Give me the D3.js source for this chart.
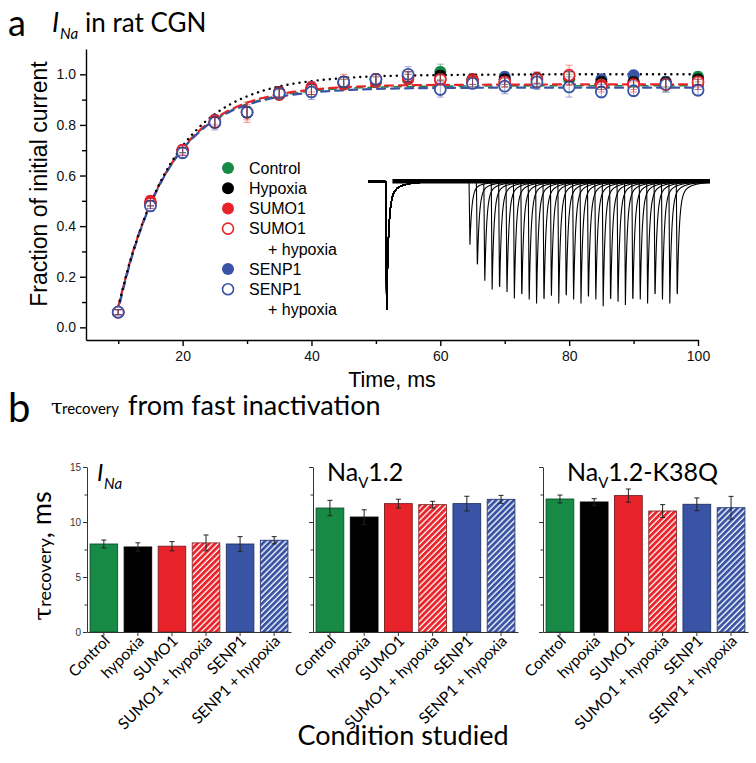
<!DOCTYPE html>
<html lang="en">
<head>
<meta charset="UTF-8">
<title>Recovery from fast inactivation</title>
<script src="https://d3js.org/d3.v7.min.js"></script>
<style>
  body { margin: 0; background: #fff; }
  svg { display: block; }
  .axA text { font: 14px "Liberation Sans", Arial, sans-serif; fill: #111; }
  .axA path, .axA line { stroke: #000; stroke-width: 1.4; }
  .axB text { font: 10px "Liberation Sans", Arial, sans-serif; fill: #333; }
  .axB path, .axB line { stroke: #333; stroke-width: 1; }
</style>
</head>
<body>
<script>
// ---------- panel a : fraction of initial current ----------
const times = [10, 15, 20, 25, 30, 35, 40, 45, 50, 55, 60, 65, 70, 75, 80, 85, 90, 95, 100];

const controlVals = [0.06, 0.49, 0.70, 0.81, 0.85, 0.92, 0.94, 0.96, 0.97, 0.98, 1.01, 0.97, 0.97, 0.97, 0.98, 0.96, 0.97, 0.96, 0.99];
const hypoxiaVals = [0.06, 0.49, 0.70, 0.81, 0.85, 0.93, 0.94, 0.97, 0.98, 0.99, 0.995, 0.98, 0.98, 0.985, 0.99, 0.97, 0.97, 0.97, 0.98];
const sumo1Vals   = [0.06, 0.50, 0.70, 0.82, 0.85, 0.93, 0.95, 0.96, 0.97, 0.98, 0.976, 0.98, 0.97, 0.984, 0.99, 0.96, 0.95, 0.96, 0.96];
const sumo1HypVals= [0.06, 0.49, 0.70, 0.81, 0.85, 0.92, 0.94, 0.97, 0.98, 0.99, 0.98, 0.97, 0.97, 0.98, 0.996, 0.95, 0.96, 0.96, 0.97];
const senp1Vals   = [0.06, 0.49, 0.70, 0.81, 0.85, 0.93, 0.94, 0.97, 0.98, 0.99, 0.98, 0.97, 0.99, 0.98, 0.99, 0.98, 0.996, 0.96, 0.96];
const senp1HypVals= [0.06, 0.48, 0.69, 0.81, 0.85, 0.925, 0.93, 0.97, 0.98, 1.00, 0.94, 0.964, 0.953, 0.97, 0.95, 0.93, 0.935, 0.96, 0.937];

const controlErr  = [0.01, 0.01, 0.01, 0.02, 0.02, 0.02, 0.02, 0.02, 0.02, 0.02, 0.03, 0.02, 0.02, 0.02, 0.02, 0.02, 0.02, 0.03, 0.02];
const hypoxiaErr  = [0.01, 0.01, 0.01, 0.02, 0.02, 0.02, 0.02, 0.02, 0.02, 0.02, 0.02, 0.02, 0.02, 0.02, 0.02, 0.02, 0.02, 0.02, 0.02];
const sumo1Err    = [0.01, 0.02, 0.02, 0.02, 0.03, 0.02, 0.02, 0.02, 0.02, 0.02, 0.02, 0.02, 0.02, 0.02, 0.03, 0.02, 0.02, 0.02, 0.02];
const sumo1HypErr = [0.01, 0.02, 0.02, 0.02, 0.04, 0.02, 0.02, 0.03, 0.02, 0.02, 0.02, 0.02, 0.02, 0.03, 0.04, 0.02, 0.02, 0.02, 0.02];
const senp1Err    = [0.01, 0.02, 0.02, 0.02, 0.02, 0.02, 0.03, 0.02, 0.02, 0.02, 0.02, 0.02, 0.02, 0.02, 0.02, 0.02, 0.02, 0.02, 0.02];
const senp1HypErr = [0.01, 0.02, 0.02, 0.03, 0.02, 0.02, 0.03, 0.02, 0.02, 0.03, 0.03, 0.02, 0.03, 0.03, 0.04, 0.02, 0.02, 0.03, 0.02];

// fitted recovery curves
const fitTimes = [10, 12, 14, 16, 18, 20, 22.5, 25, 27.5, 30, 35, 40, 45, 50, 60, 70, 80, 90, 100];
const fitHypoxia = [0.081, 0.274, 0.426, 0.546, 0.642, 0.717, 0.789, 0.843, 0.883, 0.913, 0.952, 0.973, 0.985, 0.992, 0.997, 0.999, 1.0, 1.0, 1.0];
const fitControl = [0.081, 0.274, 0.424, 0.542, 0.633, 0.704, 0.772, 0.821, 0.857, 0.883, 0.916, 0.934, 0.944, 0.949, 0.953, 0.954, 0.955, 0.955, 0.955];
const fitSumo1   = [0.081, 0.275, 0.426, 0.545, 0.636, 0.708, 0.776, 0.825, 0.861, 0.888, 0.921, 0.939, 0.949, 0.954, 0.958, 0.959, 0.96, 0.96, 0.96];
const fitSenp1   = [0.070, 0.268, 0.422, 0.541, 0.633, 0.704, 0.770, 0.819, 0.854, 0.879, 0.911, 0.928, 0.937, 0.942, 0.946, 0.947, 0.947, 0.947, 0.947];

const legendLabels = ["Control", "Hypoxia", "SUMO1", "SUMO1", "SENP1", "SENP1"];
const legendSecond = ["", "", "", "+ hypoxia", "", "+ hypoxia"];

// inset: sodium current sweeps (normalised peak of each test pulse)
const testDelays = [1, 2, 3, 4, 5, 6, 7, 8, 9, 10, 11, 12, 13, 14, 15, 16, 17, 18, 19, 20, 21, 22, 23, 24, 25, 26, 27, 28, 29];
const testAmps = [0.49, 0.69, 0.80, 0.84, 0.88, 0.89, 0.91, 0.94, 0.95, 0.95, 0.98, 0.92, 0.95, 0.95, 0.95, 0.95, 0.96, 0.95, 0.97, 0.98, 0.97, 0.96, 0.98, 0.95, 0.95, 0.94, 0.95, 0.95, 0.94];

// ---------- panel b : tau recovery ----------
const conditions = ["Control", "hypoxia", "SUMO1", "SUMO1 + hypoxia", "SENP1", "SENP1 + hypoxia"];
const tauINa   = [8.0, 7.73, 7.8, 8.1, 8.0, 8.34];
const errINa   = [0.36, 0.38, 0.42, 0.72, 0.67, 0.33];
const tauNav12 = [11.27, 10.45, 11.67, 11.58, 11.67, 12.06];
const errNav12 = [0.70, 0.66, 0.40, 0.30, 0.67, 0.36];
const tauK38Q  = [12.09, 11.82, 12.4, 11.0, 11.61, 11.3];
const errK38Q  = [0.36, 0.30, 0.60, 0.58, 0.58, 1.03];

const GREEN = "#178a46", RED = "#e8232a", BLUE = "#3a54a5", BLACK = "#000";

const svg = d3.select("body").append("svg")
    .attr("width", 756)
    .attr("height", 763)
    .style("font-family", "'Liberation Sans', Arial, sans-serif");

const defs = svg.append("defs");
[["hatchRed", RED], ["hatchBlue", BLUE]].forEach(([id, c]) => {
  const p = defs.append("pattern")
      .attr("id", id)
      .attr("patternUnits", "userSpaceOnUse")
      .attr("width", 4.2).attr("height", 4.2)
      .attr("patternTransform", "rotate(45)");
  p.append("rect").attr("width", 4.2).attr("height", 4.2).attr("fill", c);
  p.append("line").attr("x1", 1).attr("x2", 1).attr("y1", 0).attr("y2", 4.2)
      .attr("stroke", "#fff").attr("stroke-width", 1.3);
});

// ---------- titles ----------
const lato = "Lato, 'Open Sans', sans-serif";
svg.append("text").attr("x", 8).attr("y", 35.5).style("font", `36px ${lato}`).text("a");
svg.append("text").attr("x", 52).attr("y", 32).style("font", `italic 27px ${lato}`).text("I");
svg.append("text").attr("x", 60).attr("y", 39).style("font", `italic 15px ${lato}`).text("Na");
svg.append("text").attr("x", 85).attr("y", 32).style("font", `26px ${lato}`).text("in rat CGN");

svg.append("text").attr("x", 8).attr("y", 422).style("font", `40px ${lato}`).text("b");
svg.append("text").attr("x", 51).attr("y", 414).style("font", "21px 'DejaVu Serif', serif").text("τ");
svg.append("text").attr("x", 62).attr("y", 414).style("font", `15px ${lato}`).text("recovery");
svg.append("text").attr("x", 128).attr("y", 415).style("font", `27px ${lato}`).text("from fast inactivation");

// ---------- panel a axes ----------
const x = d3.scaleLinear().domain([5, 100]).range([86, 698]);
const y = d3.scaleLinear().domain([-0.05, 1.1]).range([340, 49]);

svg.append("g").attr("class", "axA").attr("transform", "translate(0,340)")
    .call(d3.axisBottom(x).tickValues([20, 40, 60, 80, 100]).tickSize(6).tickSizeOuter(0).tickPadding(5));
svg.append("g").attr("class", "axA").attr("transform", "translate(0,340)")
    .call(d3.axisBottom(x).tickValues([10, 30, 50, 70, 90]).tickSize(4).tickFormat(""))
    .call(g => g.select(".domain").remove());
svg.append("g").attr("class", "axA").attr("transform", "translate(86,0)")
    .call(d3.axisLeft(y).tickValues([0, 0.2, 0.4, 0.6, 0.8, 1.0]).tickFormat(d3.format(".1f")).tickSize(6).tickSizeOuter(0).tickPadding(4));
svg.append("g").attr("class", "axA").attr("transform", "translate(86,0)")
    .call(d3.axisLeft(y).tickValues([0.1, 0.3, 0.5, 0.7, 0.9]).tickSize(4).tickFormat(""))
    .call(g => g.select(".domain").remove());

svg.append("text")
    .attr("transform", "translate(47,184) rotate(-90)")
    .attr("text-anchor", "middle")
    .style("font-size", "23px")
    .text("Fraction of initial current");
svg.append("text")
    .attr("x", 392).attr("y", 387)
    .attr("text-anchor", "middle")
    .style("font-size", "21.5px")
    .text("Time, ms");

// ---------- inset traces ----------
const insetX = d3.scaleLinear().domain([0, 46.2]).range([368, 710]);
const insetY = d3.scaleLinear().domain([-1, 0]).range([310, 182]);
const prepulseAt = 2.4, testStart = 13.65;

function spike(t, t0, amp) {
  const u = t - t0;
  if (u < 0) return 0;
  if (u < 0.12) return -amp * u / 0.12;
  const v = u - 0.12;
  return -amp * (0.86 * Math.exp(-v / 0.25) + 0.14 * Math.exp(-v / 1.3));
}
const sampleT = d3.range(0, 46.2, 0.03);
const traceLine = d3.line().x(d => insetX(d[0])).y(d => insetY(d[1]));

const inset = svg.append("g");
inset.append("line")
    .attr("x1", insetX(0)).attr("x2", insetX(prepulseAt))
    .attr("y1", insetY(0) - 0.5).attr("y2", insetY(0) - 0.5)
    .attr("stroke", "#000").attr("stroke-width", 3);
inset.append("line")
    .attr("x1", insetX(prepulseAt + 0.9)).attr("x2", insetX(46.2))
    .attr("y1", insetY(0) - 0.8).attr("y2", insetY(0) - 0.8)
    .attr("stroke", "#000").attr("stroke-width", 4.5);
inset.selectAll("path.sweep")
  .data(testDelays.map((dl, i) => ({ t: testStart + dl - 1, amp: testAmps[i] })))
  .join("path")
    .attr("class", "sweep")
    .attr("fill", "none")
    .attr("stroke", "#000")
    .attr("stroke-width", 1.1)
    .attr("d", s => traceLine(sampleT.map(t => [t, spike(t, prepulseAt, 1) + spike(t, s.t, s.amp)])));

// ---------- legend ----------
const legendColors = [GREEN, BLACK, RED, RED, BLUE, BLUE];
const legendOpen = [false, false, false, true, false, true];
let ly = 168;
const legend = svg.append("g").style("font-size", "16px");
legendLabels.forEach((lab, i) => {
  if (legendOpen[i]) {
    legend.append("circle").attr("cx", 228).attr("cy", ly).attr("r", 5.5)
        .attr("fill", "#fff").attr("stroke", legendColors[i]).attr("stroke-width", 1.6);
  } else {
    legend.append("circle").attr("cx", 228).attr("cy", ly).attr("r", 6).attr("fill", legendColors[i]);
  }
  legend.append("text").attr("x", 249).attr("y", ly).attr("dy", "0.36em").text(lab);
  ly += 20.2;
  if (legendSecond[i]) {
    legend.append("text").attr("x", 268).attr("y", ly).attr("dy", "0.36em").text(legendSecond[i]);
    ly += 20.2;
  }
});

// ---------- fits ----------
const fitLine = d3.line().curve(d3.curveMonotoneX).x((d, i) => x(fitTimes[i])).y(d => y(d));
const fits = [
  { vals: fitControl, color: GREEN, dash: "7,6", off: 3, w: 1.6 },
  { vals: fitSumo1, color: RED, dash: "8,6", off: 0, w: 2.2 },
  { vals: fitSenp1, color: BLUE, dash: "8,6", off: 7, w: 2.2 },
  { vals: fitHypoxia, color: BLACK, dash: "0.1,6", off: 0, w: 2.4 }
];
svg.append("g").selectAll("path").data(fits).join("path")
    .attr("d", f => fitLine(f.vals))
    .attr("fill", "none")
    .attr("stroke", f => f.color)
    .attr("stroke-width", f => f.w)
    .attr("stroke-linecap", "round")
    .attr("stroke-dasharray", f => f.dash)
    .attr("stroke-dashoffset", f => f.off);

// ---------- data points ----------
const seriesA = [
  { vals: senp1Vals, err: senp1Err, color: BLUE, open: false },
  { vals: controlVals, err: controlErr, color: GREEN, open: false },
  { vals: hypoxiaVals, err: hypoxiaErr, color: BLACK, open: false },
  { vals: sumo1Vals, err: sumo1Err, color: RED, open: false },
  { vals: sumo1HypVals, err: sumo1HypErr, color: RED, open: true },
  { vals: senp1HypVals, err: senp1HypErr, color: BLUE, open: true }
];
const markers = svg.append("g");
const errBars = svg.append("g").attr("stroke-opacity", 0.5).attr("stroke-width", 1);
seriesA.forEach(s => {
  const pts = times.map((t, i) => ({ t, v: s.vals[i], e: s.err[i] }));
  markers.append("g").selectAll("circle").data(pts).join("circle")
      .attr("cx", p => x(p.t)).attr("cy", p => y(p.v))
      .attr("r", s.open ? 5.5 : 6)
      .attr("fill", s.open ? "#fff" : s.color)
      .attr("stroke", s.open ? s.color : "none")
      .attr("stroke-width", 1.8);
  const eb = errBars.append("g").attr("stroke", s.color);
  pts.forEach(p => {
    eb.append("line").attr("x1", x(p.t)).attr("x2", x(p.t)).attr("y1", y(p.v - p.e)).attr("y2", y(p.v + p.e));
    [p.v - p.e, p.v + p.e].forEach(v => eb.append("line")
        .attr("x1", x(p.t) - 3.5).attr("x2", x(p.t) + 3.5).attr("y1", y(v)).attr("y2", y(v)));
  });
});

// ---------- panel b ----------
const yB = d3.scaleLinear().domain([0, 15]).range([632, 467]);
const barFills = [GREEN, BLACK, RED, "url(#hatchRed)", BLUE, "url(#hatchBlue)"];
const barStrokes = ["#0f4f2a", "#000", "#7a1a1c", "#8a2a2c", "#1f2f66", "#2a3a72"];
const panels = [
  { x0: 87, x1: 291, vals: tauINa, errs: errINa, labels: true },
  { x0: 313, x1: 518, vals: tauNav12, errs: errNav12, labels: false },
  { x0: 543, x1: 748, vals: tauK38Q, errs: errK38Q, labels: false }
];

panels.forEach(p => {
  const xb = d3.scaleBand().domain(conditions).range([p.x0, p.x1]).paddingInner(0.19).paddingOuter(0.09);
  const g = svg.append("g");

  g.selectAll("rect").data(conditions).join("rect")
      .attr("x", d => xb(d))
      .attr("width", xb.bandwidth())
      .attr("y", (d, i) => yB(p.vals[i]))
      .attr("height", (d, i) => yB(0) - yB(p.vals[i]))
      .attr("fill", (d, i) => barFills[i])
      .attr("stroke", (d, i) => barStrokes[i])
      .attr("stroke-width", 0.9);

  const eb = g.append("g").attr("stroke", "#222").attr("stroke-width", 1);
  conditions.forEach((c, i) => {
    const cx = xb(c) + xb.bandwidth() / 2;
    const lo = p.vals[i] - p.errs[i], hi = p.vals[i] + p.errs[i];
    eb.append("line").attr("x1", cx).attr("x2", cx).attr("y1", yB(lo)).attr("y2", yB(hi));
    [lo, hi].forEach(v => eb.append("line").attr("x1", cx - 2.5).attr("x2", cx + 2.5).attr("y1", yB(v)).attr("y2", yB(v)));
  });

  g.append("g").attr("class", "axB").attr("transform", `translate(${p.x0},0)`)
      .call(d3.axisLeft(yB).tickValues([0, 5, 10, 15]).tickSize(4).tickSizeOuter(0).tickPadding(2)
        .tickFormat(p.labels ? d3.format("d") : ""));
  g.append("g").attr("class", "axB").attr("transform", `translate(${p.x0},0)`)
      .call(d3.axisLeft(yB).tickValues([2.5, 7.5, 12.5]).tickSize(2.5).tickFormat(""))
      .call(a => a.select(".domain").remove());
  g.append("g").attr("class", "axB").attr("transform", "translate(0,632)")
      .call(d3.axisBottom(xb).tickSize(4).tickSizeOuter(0).tickFormat(""));

  g.append("g").style("font", `15.5px ${lato}`)
    .selectAll("text").data(conditions).join("text")
      .attr("transform", c => `translate(${xb(c) + xb.bandwidth() / 2 + 7},642) rotate(-45)`)
      .attr("text-anchor", "end")
      .text(c => c);
});

// panel titles
svg.append("text").attr("x", 97).attr("y", 481).style("font", `italic 24px ${lato}`).text("I");
svg.append("text").attr("x", 104).attr("y", 489).style("font", `italic 15px ${lato}`).text("Na");

[[327, "1.2"], [567, "1.2-K38Q"]].forEach(([x0, rest]) => {
  const t = svg.append("text").attr("x", x0).attr("y", 481).style("font", `25px ${lato}`);
  t.append("tspan").text("Na");
  t.append("tspan").attr("dy", 7).style("font-size", "15px").text("V");
  t.append("tspan").attr("dy", -7).text(rest);
});

// y label panel b
const yl = svg.append("text")
    .attr("transform", "translate(51,556) rotate(-90)")
    .attr("text-anchor", "middle");
yl.append("tspan").style("font", "25px 'DejaVu Serif', serif").text("τ");
yl.append("tspan").style("font", `18px ${lato}`).text("recovery");
yl.append("tspan").style("font", `27px ${lato}`).text(", ms");

svg.append("text")
    .attr("x", 403).attr("y", 745)
    .attr("text-anchor", "middle")
    .style("font", `27px ${lato}`)
    .text("Condition studied");
</script>
</body>
</html>
